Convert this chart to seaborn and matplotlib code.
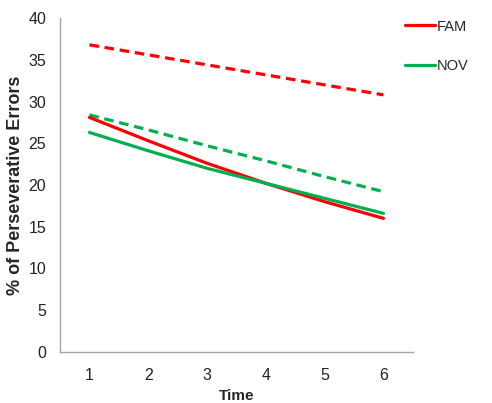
import numpy as np
import pandas as pd
import matplotlib
matplotlib.use('Agg')
import matplotlib.pyplot as plt
import seaborn as sns

# values
time = [1, 2, 3, 4, 5, 6]
fam_solid = [28.1, 25.3, 22.6, 20.2, 18.0, 16.0]
nov_solid = [26.3, 24.1, 22.0, 20.2, 18.4, 16.6]
fam_dash = [36.8, 35.6, 34.4, 33.2, 32.0, 30.8]
nov_dash = [28.4, 26.6, 24.7, 22.9, 21.0, 19.2]
yticks = [0, 5, 10, 15, 20, 25, 30, 35, 40]

red = '#ff0000'
green = '#00b050'

sns.set_style('white')
plt.rcParams['font.family'] = ['Liberation Sans', 'DejaVu Sans']

fig = plt.figure(figsize=(4.92, 4.03), dpi=100)
ax = fig.add_axes([0.122, 0.127, 0.717, 0.828])

sns.lineplot(x=time, y=fam_dash, color=red, lw=2.3, ax=ax,
             linestyle=(0, (3, 1.8)))
sns.lineplot(x=time, y=nov_dash, color=green, lw=2.3, ax=ax,
             linestyle=(0, (3, 1.8)))
sns.lineplot(x=time, y=fam_solid, color=red, lw=2.3, ax=ax, label='FAM')
sns.lineplot(x=time, y=nov_solid, color=green, lw=2.3, ax=ax, label='NOV')

ax.set_xlim(0.5, 6.5)
ax.set_ylim(0, 40)
ax.set_yticks(yticks)
ax.set_xticks(time)
ax.set_xticks(np.arange(0.5, 7, 1), minor=True)
ax.tick_params(axis='x', which='major', length=0, labelsize=11.5, pad=12, colors='#222222')
ax.tick_params(axis='x', which='minor', length=5, width=1, color='#a6a6a6', direction='out')
ax.tick_params(axis='y', length=5, width=1, direction='out', pad=5,
               labelsize=11.5, colors='#222222')
ax.tick_params(axis='y', color='#a6a6a6')

for s in ['top', 'right']:
    ax.spines[s].set_visible(False)
for s in ['left', 'bottom']:
    ax.spines[s].set_color('#a6a6a6')
    ax.spines[s].set_linewidth(1)

ax.set_xlabel('Time', fontsize=11, fontweight='bold', labelpad=4)
ax.set_ylabel('% of Perseverative Errors', fontsize=13, fontweight='bold', labelpad=3)

ax.legend(loc='upper left', bbox_to_anchor=(0.94, 1.035), frameon=False,
          fontsize=10.5, handlelength=2.1, handletextpad=0.1, labelspacing=1.75)

fig.savefig('out.png', dpi=100)
